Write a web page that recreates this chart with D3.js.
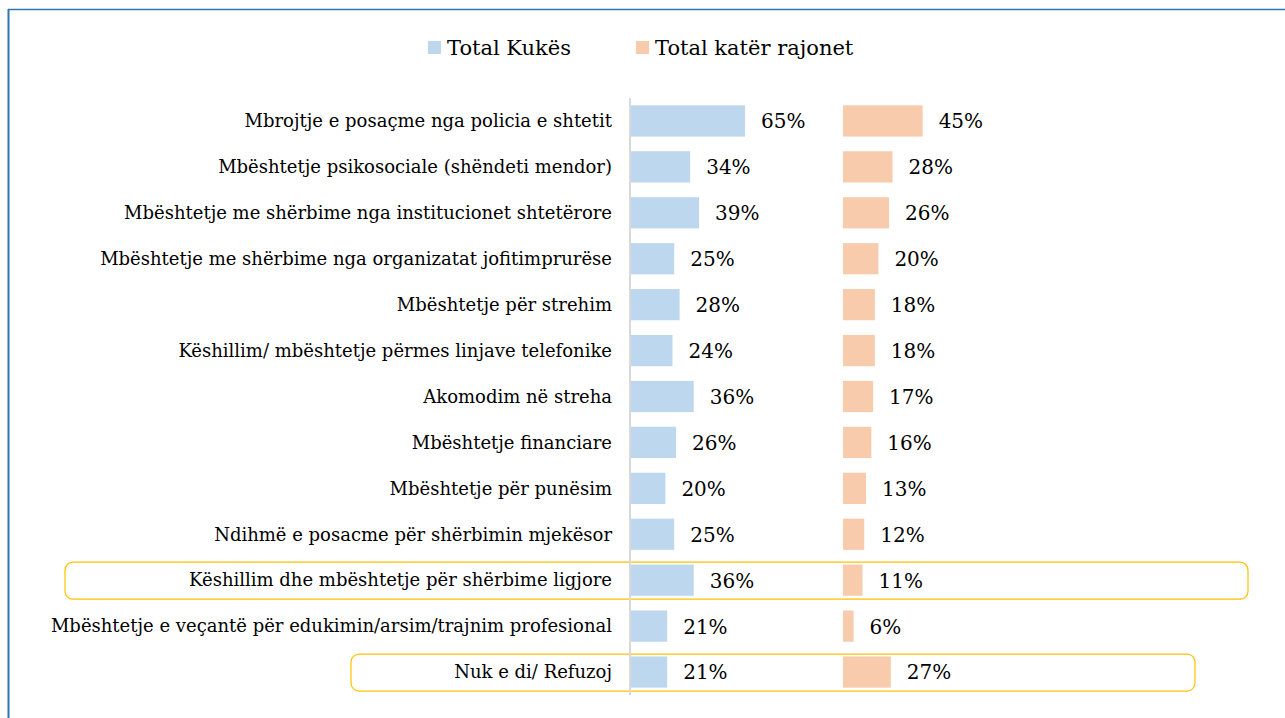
<!DOCTYPE html>
<html>
<head>
<meta charset="utf-8">
<script src="https://cdn.jsdelivr.net/npm/d3@7"></script>
<style>
  body { margin: 0; background: #fff; }
  svg text { font-family: "DejaVu Serif", serif; fill: #000; }
</style>
</head>
<body>
<svg width="1285" height="718"></svg>
<script>
var categories = [
    "Mbrojtje e posaçme nga policia e shtetit",
    "Mbështetje psikosociale (shëndeti mendor)",
    "Mbështetje me shërbime nga institucionet shtetërore",
    "Mbështetje me shërbime nga organizatat jofitimprurëse",
    "Mbështetje për strehim",
    "Këshillim/ mbështetje përmes linjave telefonike",
    "Akomodim në streha",
    "Mbështetje financiare",
    "Mbështetje për punësim",
    "Ndihmë e posacme për shërbimin mjekësor",
    "Këshillim dhe mbështetje për shërbime ligjore",
    "Mbështetje e veçantë për edukimin/arsim/trajnim profesional",
    "Nuk e di/ Refuzoj"
];
var kukes = [65, 34, 39, 25, 28, 24, 36, 26, 20, 25, 36, 21, 21];
var rajonet = [45, 28, 26, 20, 18, 18, 17, 16, 13, 12, 11, 6, 27];
var seriesNames = ["Total Kukës", "Total katër rajonet"];
var colors = ["#BDD7EE", "#F8CBAD"];
var highlighted = [
    { cat: "Këshillim dhe mbështetje për shërbime ligjore", x0: 65, x1: 1248 },
    { cat: "Nuk e di/ Refuzoj", x0: 351, x1: 1195 }
];

var svg = d3.select("svg");

// frame of the chart box
svg.append("line").attr("x1", 8).attr("x2", 1285).attr("y1", 9.5).attr("y2", 9.5)
    .attr("stroke", "#2E75B6").attr("stroke-width", 1.5);
svg.append("line").attr("x1", 8.5).attr("x2", 8.5).attr("y1", 9).attr("y2", 718)
    .attr("stroke", "#2E75B6").attr("stroke-width", 2);

var y = d3.scaleBand().domain(categories).range([98, 695]).paddingInner(0.32).paddingOuter(0.16);
var x1 = d3.scaleLinear().domain([0, 100]).range([630, 807]);
var x2 = d3.scaleLinear().domain([0, 100]).range([843, 1020]);

// highlight boxes
svg.selectAll("rect.hl")
    .data(highlighted)
    .enter().append("rect")
    .attr("class", "hl")
    .attr("x", function (d) { return d.x0; })
    .attr("width", function (d) { return d.x1 - d.x0; })
    .attr("y", function (d) { return y(d.cat) + y.bandwidth() / 2 - 18; })
    .attr("height", 37)
    .attr("rx", 8)
    .attr("fill", "none")
    .attr("stroke", "#FFC000")
    .attr("stroke-width", 1.2);

// category labels
svg.selectAll("text.cat")
    .data(categories)
    .enter().append("text")
    .attr("class", "cat")
    .attr("x", 612)
    .attr("y", function (d) { return y(d) + y.bandwidth() / 2; })
    .attr("dy", "0.35em")
    .attr("text-anchor", "end")
    .style("font-size", "18px")
    .text(function (d) { return d; });

function drawSeries(vals, xs, color) {
    var g = svg.append("g");
    g.selectAll("rect")
        .data(vals)
        .enter().append("rect")
        .attr("x", xs(0))
        .attr("y", function (d, i) { return y(categories[i]); })
        .attr("width", function (d) { return xs(d) - xs(0); })
        .attr("height", y.bandwidth())
        .attr("fill", color);
    g.selectAll("text")
        .data(vals)
        .enter().append("text")
        .attr("x", function (d) { return xs(d) + 16; })
        .attr("y", function (d, i) { return y(categories[i]) + y.bandwidth() / 2; })
        .attr("dy", "0.37em")
        .style("font-size", "20px")
        .text(function (d) { return d + "%"; });
}
drawSeries(kukes, x1, colors[0]);
drawSeries(rajonet, x2, colors[1]);

// axis line
svg.append("line").attr("x1", 630).attr("x2", 630).attr("y1", 98).attr("y2", 695)
    .attr("stroke", "#D9D9D9").attr("stroke-width", 2);

// legend
var legendX = [428, 636];
var lg = svg.selectAll("g.legend")
    .data(seriesNames)
    .enter().append("g")
    .attr("class", "legend")
    .attr("transform", function (d, i) { return "translate(" + legendX[i] + ",41)"; });
lg.append("rect").attr("width", 13).attr("height", 13)
    .attr("fill", function (d, i) { return colors[i]; });
lg.append("text").attr("x", 19).attr("y", 14)
    .style("font-size", "21px")
    .text(function (d) { return d; });
</script>
</body>
</html>
